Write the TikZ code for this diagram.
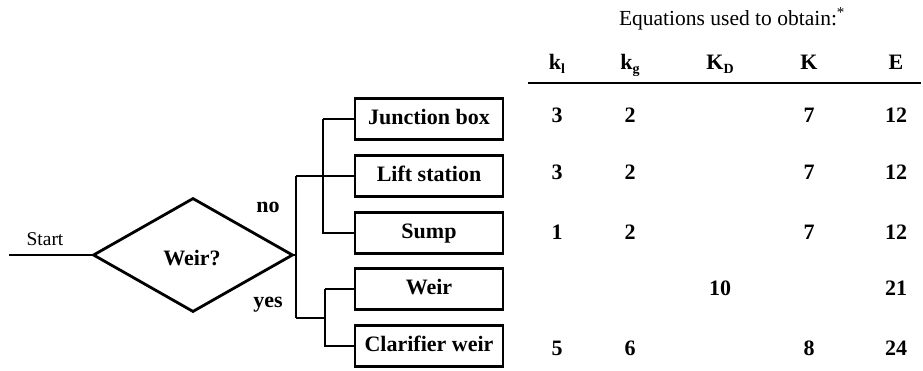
\documentclass[tikz,border=0pt]{standalone}
\usepackage{fontspec}
\setmainfont{Liberation Serif}
\usetikzlibrary{shapes.geometric}
\newcommand{\bigbf}{\fontsize{22}{24}\selectfont\bfseries}
\newcommand{\bigrm}{\fontsize{21.5}{24}\selectfont}
\newcommand{\smallrm}{\fontsize{19.5}{22}\selectfont}
\tikzset{
  wire/.style={line width=2.8pt},
  catbox/.style={draw, line width=2.6pt, minimum width=148pt, minimum height=41pt, inner sep=0pt, text height=14pt, text depth=4pt, font=\bigbf},
  num/.style={font=\bigbf, inner sep=0pt},
  head/.style={font=\bigbf, inner sep=0pt, anchor=base},
  lbl/.style={font=\bigbf, inner sep=0pt}
}
\begin{document}
\begin{tikzpicture}[x=1pt,y=-1pt]
\useasboundingbox (0,0) rectangle (923,370);
% decision
\coordinate (start) at (9,255);
\node[diamond, draw, line width=2.8pt, minimum width=200pt, minimum height=114pt, inner sep=0pt, aspect=1.75] (d) at (193,255) {};
\node[lbl] (q) at (192,258) {Weir?};
\draw[wire] (start) -- (d.west);
\node[font=\smallrm, anchor=base, inner sep=0pt] (startlbl) at (45,245) {Start};
\node[lbl] (no) at (268,207) {no};
\node[lbl] (yes) at (268,305) {yes};
% boxes
\node[catbox] (jb) at (429,119) {Junction box};
\node[catbox] (ls) at (429,176) {Lift station};
\node[catbox] (sp) at (429,233) {Sump};
\node[catbox] (wr) at (429,289) {Weir};
\node[catbox] (cw) at (429,346) {Clarifier weir};
% trunk
\coordinate (t1) at (296,175);
\coordinate (t2) at (296,318);
\coordinate (tm) at (296,255);
\coordinate (u1) at (323,119);
\coordinate (u2) at (323,233);
\coordinate (l1) at (325,289);
\coordinate (l2) at (325,346);
\coordinate (lm) at (325,318);
\draw[wire] (t1 |- ls.west) -- (t2);
\draw[wire] (d.east) -- (tm);
\draw[wire] (t1 |- ls.west) -- (ls.west);
\draw[wire] (t2) -- (lm);
\draw[wire] (u1 |- jb.west) -- (jb.west);
\draw[wire] (u1 |- jb.west) -- (u2 |- sp.west) -- (sp.west);
\draw[wire] (l1 |- wr.west) -- (wr.west);
\draw[wire] (l1 |- wr.west) -- (l2 |- cw.west) -- (cw.west);
% table
\node[font=\bigrm, anchor=base, inner sep=0pt] (title) at (732,25) {Equations used to obtain:\textsuperscript{*}};
\node[head] (h1) at (557,69) {k\raisebox{-0.4ex}{\fontsize{14}{15}\selectfont\bfseries l}};
\node[head] (h2) at (630,69) {k\raisebox{-0.4ex}{\fontsize{14}{15}\selectfont\bfseries g}};
\node[head] (h3) at (720,69) {K\raisebox{-0.4ex}{\fontsize{14}{15}\selectfont\bfseries D}};
\node[head] (h4) at (809,69) {K};
\node[head] (h5) at (896,69) {E};
\coordinate (r1) at (528,83);
\coordinate (r2) at (921,83);
\draw[line width=2.8pt] (r1) -- (r2);
% rows
\node[num] (a1) at (557,115) {3};
\node[num] (b1) at (630,115) {2};
\node[num] (d1) at (809,115) {7};
\node[num] (e1) at (896,115) {12};
\node[num] (a2) at (557,172) {3};
\node[num] (b2) at (630,172) {2};
\node[num] (d2) at (809,172) {7};
\node[num] (e2) at (896,172) {12};
\node[num] (a3) at (557,232) {1};
\node[num] (b3) at (630,232) {2};
\node[num] (d3) at (809,232) {7};
\node[num] (e3) at (896,232) {12};
\node[num] (c4) at (720,288) {10};
\node[num] (e4) at (896,288) {21};
\node[num] (a5) at (557,348) {5};
\node[num] (b5) at (630,348) {6};
\node[num] (d5) at (809,348) {8};
\node[num] (e5) at (896,348) {24};
\end{tikzpicture}
\end{document}
